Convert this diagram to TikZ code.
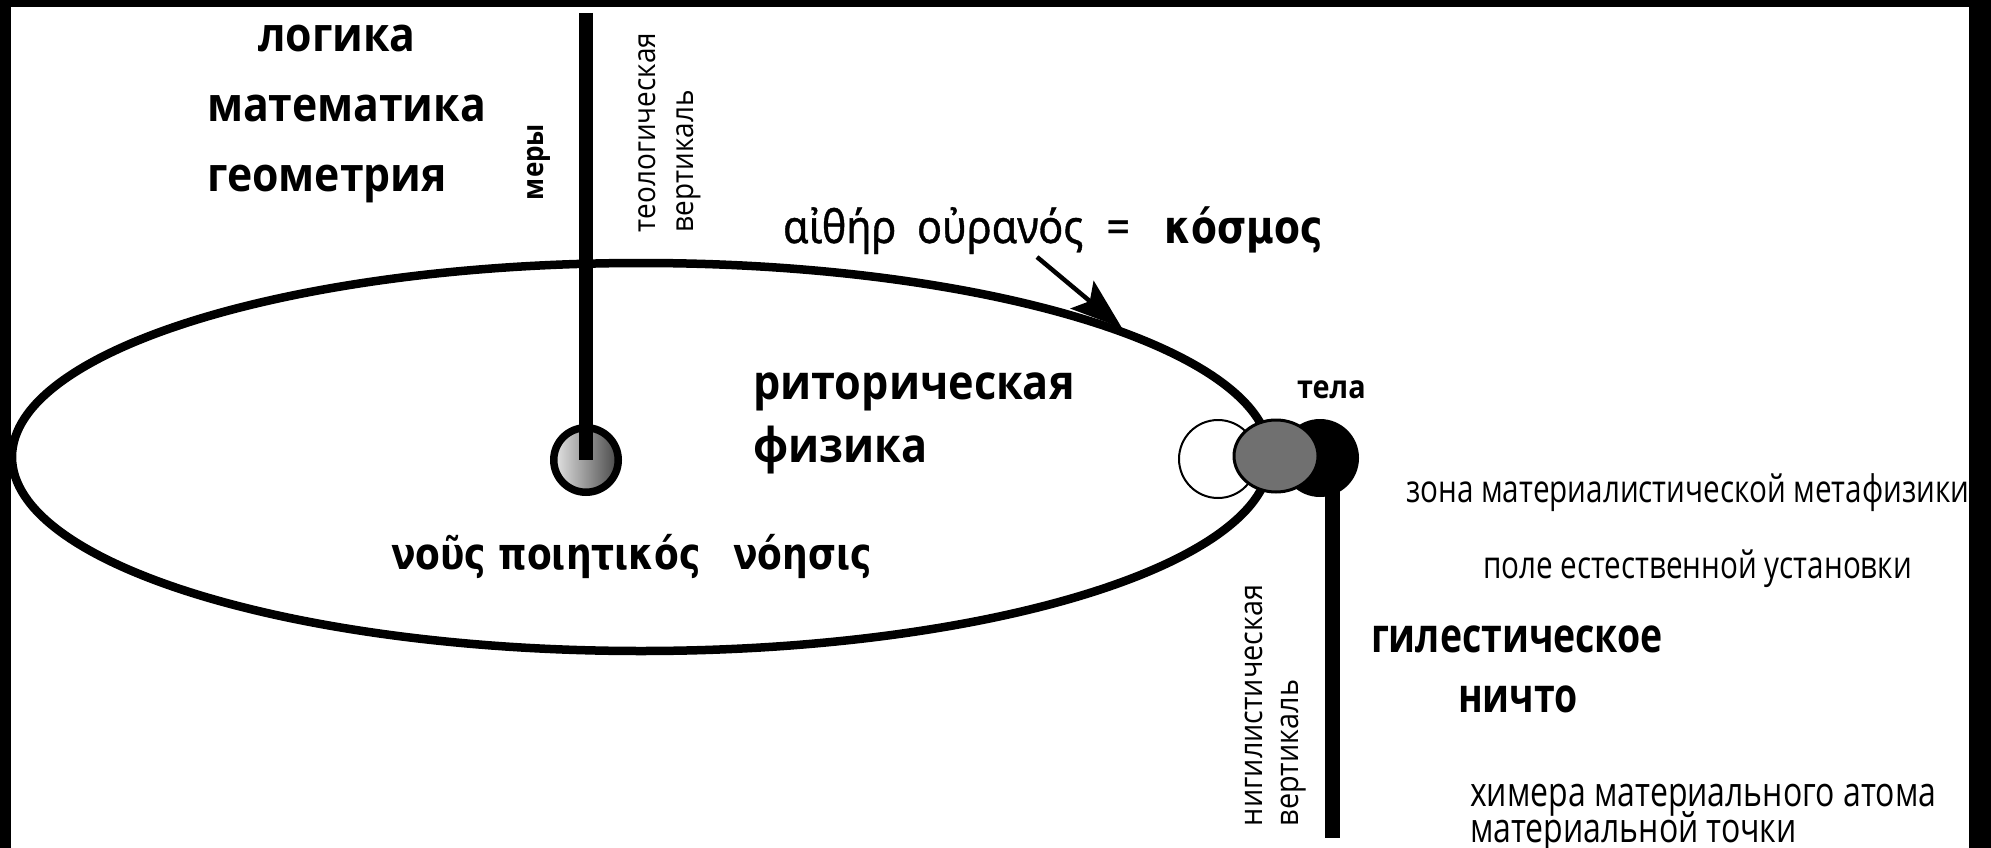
\documentclass[tikz,border=0pt]{standalone}
\usepackage{fontspec}
\setmainfont{Open Sans}
\newfontfamily\fA{Open Sans}[FakeStretch=0.9]
\newfontfamily\fC{Open Sans}[FakeStretch=0.78]
\newfontfamily\fG{Noto Sans}[FakeStretch=0.9,FakeBold=0.8]
\newfontfamily\fGB{DejaVu Sans}[FakeStretch=0.82]
\usetikzlibrary{arrows.meta,shapes.geometric}
\begin{document}
\begin{tikzpicture}[x=1pt,y=-1pt,
  lbl/.style={inner sep=0pt, outer sep=0pt, anchor=base west},
  bigb/.style={lbl, font=\fA\bfseries\fontsize{47.5}{56}\selectfont},
  ritb/.style={lbl, font=\fA\bfseries\fontsize{48}{56}\selectfont},
  grk/.style={lbl, font=\fG\fontsize{46}{54}\selectfont},
  grkb/.style={lbl, font=\fGB\bfseries\fontsize{44}{52}\selectfont},
  rot/.style={lbl, rotate=90, font=\fA\fontsize{31}{38}\selectfont},
  rotn/.style={lbl, rotate=90, font=\fA\fontsize{32}{38}\selectfont},
  rotb/.style={lbl, rotate=90, font=\fA\bfseries\fontsize{29}{36}\selectfont},
  smallb/.style={lbl, font=\fA\bfseries\fontsize{32}{38}\selectfont},
  cond/.style={lbl, font=\fC\fontsize{38}{44}\selectfont},
  condl/.style={lbl, font=\fC\fontsize{41}{48}\selectfont},
  condb/.style={lbl, font=\fC\bfseries\fontsize{48}{56}\selectfont},
  heavy/.style={line width=14pt},
]
% frame
\fill[white] (0,0) rectangle (1991,848);
\fill[black] (0,0) rectangle (1991,7);
\fill[black] (0,0) rectangle (11,848);
\fill[black] (1969,0) rectangle (1991,848);
\useasboundingbox (0,0) rectangle (1991,848);

% big ellipse
\node[ellipse, draw, line width=8.5pt, inner sep=0pt, minimum width=1258pt, minimum height=388pt] (cosmos) at (641,457) {};

% theological vertical
\coordinate (ttop) at (586,13);
\node[circle, draw, line width=7.5pt, inner sep=0pt, minimum size=64.5pt,
      left color=black!10, right color=black!72] (core) at (586,460) {};
\draw[heavy] (ttop) -- (core.center);

% right cluster
\node[circle, draw, line width=2pt, fill=white, inner sep=0pt, minimum size=78pt] (white) at (1218,459) {};
\node[circle, fill=black, inner sep=0pt, minimum size=78pt] (dark) at (1320,458) {};
\coordinate (nbot) at (1332,838);
\draw[line width=15pt] (nbot |- dark.center) -- (nbot);
\node[ellipse, draw, line width=3pt, fill=black!56, inner sep=0pt, minimum width=84pt, minimum height=72pt] (bodies) at (1276,456) {};

% arrow
\coordinate (astart) at (1037,257);
\draw[line width=4.5pt, -{Stealth[length=52pt,width=36pt,inset=10pt]}] (astart) -- (cosmos.15.6);

% labels upper left
\node[bigb] (logic) at (258,52) {логика};
\node[bigb] (math) at (207,122) {математика};
\node[bigb] (geom) at (207,191) {геометрия};
\node[rotb] (mery) at (543,200) {меры};
\node[rot] (teo1) at (655,232) {теологическая};
\node[rot] (teo2) at (693,232) {вертикаль};

% greek line
\node[grk] (ether) at (783,243) {αἰθήρ\hspace{0.45em}οὐρανός\hspace{0.5em}=\hspace{0.75em}{\fGB\bfseries κόσμος}};

% inside ellipse
\node[ritb] (rit) at (753,399) {риторическая};
\node[ritb] (fiz) at (753,462) {физика};
\node[grkb] (nous) at (391,569) {νοῦς ποιητικός};
\node[grkb] (noesis) at (733,569) {νόησις};

% right side
\node[smallb] (tela) at (1297,398) {тела};
\node[cond] (zona) at (1406,502) {зона материалистической метафизики};
\node[cond] (pole) at (1483,578) {поле естественной установки};
\node[condb] (hyl) at (1371,652) {гилестическое};
\node[condb] (nichto) at (1458,712) {ничто};
\node[condl] (chim1) at (1470,806) {химера материального атома};
\node[condl] (chim2) at (1470,842) {материальной точки};
\node[rotn] (nig1) at (1262,826) {нигилистическая};
\node[rotn] (nig2) at (1298,826) {вертикаль};
\end{tikzpicture}
\end{document}
